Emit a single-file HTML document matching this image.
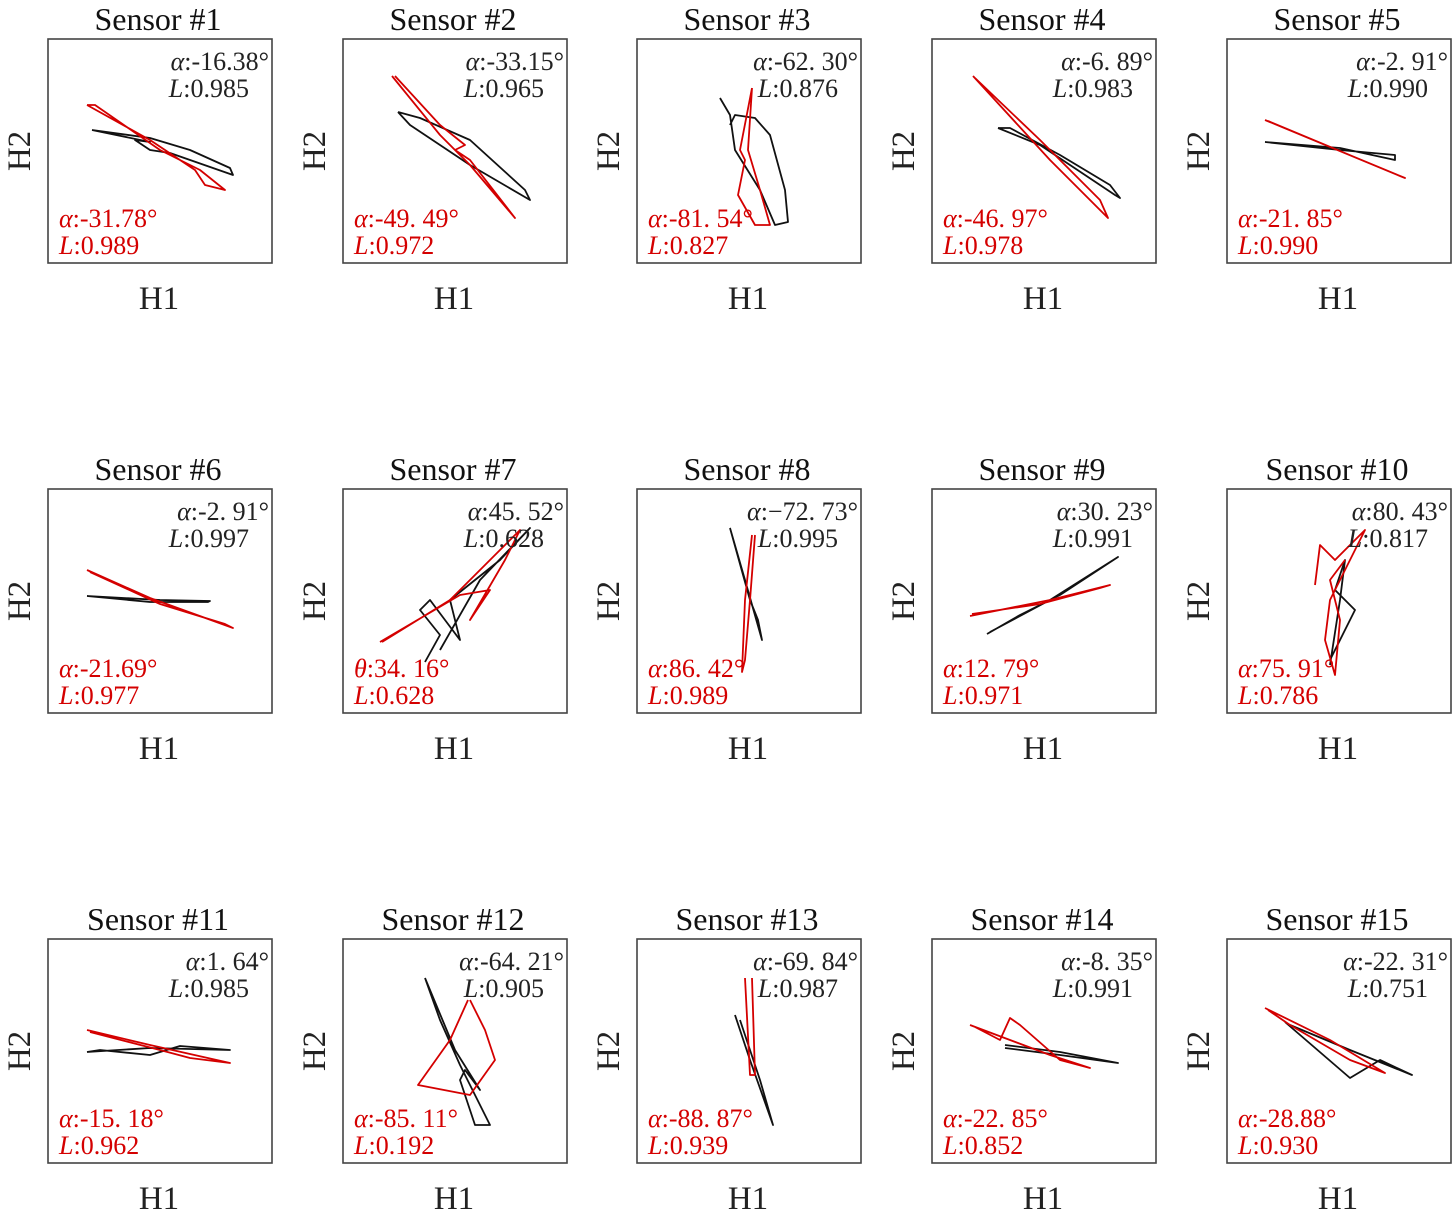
<!DOCTYPE html>
<html><head><meta charset="utf-8"><style>
html,body{margin:0;padding:0;background:#fff;}
svg{display:block;}
text{font-family:"Liberation Serif",serif;}
</style></head><body>
<svg id="fig" width="1456" height="1216" viewBox="0 0 1456 1216" xmlns="http://www.w3.org/2000/svg"></svg>
<script>
const titles = ["Sensor #1","Sensor #2","Sensor #3","Sensor #4","Sensor #5","Sensor #6","Sensor #7","Sensor #8","Sensor #9","Sensor #10","Sensor #11","Sensor #12","Sensor #13","Sensor #14","Sensor #15"];
const blackAlpha = ["-16.38","-33.15","-62. 30","-6. 89","-2. 91","-2. 91","45. 52","\u221272. 73","30. 23","80. 43","1. 64","-64. 21","-69. 84","-8. 35","-22. 31"];
const blackL = ["0.985","0.965","0.876","0.983","0.990","0.997","0.628","0.995","0.991","0.817","0.985","0.905","0.987","0.991","0.751"];
const redSym = ["α","α","α","α","α","α","θ","α","α","α","α","α","α","α","α"];
const redAlpha = ["-31.78","-49. 49","-81. 54","-46. 97","-21. 85","-21.69","34. 16","86. 42","12. 79","75. 91","-15. 18","-85. 11","-88. 87","-22. 85","-28.88"];
const redL = ["0.989","0.972","0.827","0.978","0.990","0.977","0.628","0.989","0.971","0.786","0.962","0.192","0.939","0.852","0.930"];
const blackX = [
 [-68,-10,-25,-10,10,73,70,30,-10,-68],
 [-57,-45,15,75,70,15,-35,-57],
 [-29,-19,-14,11,26,39,36,21,6,-14,-19],
 [-46,-4,26,71,76,66,16,-34,-46],
 [-74,1,56,56,1,-74],
 [-73,0,50,48,-10,-73],
 [-30,-15,-35,-25,-10,5,-5,45,75,25,-15],
 [-19,-4,13,9,1,-19],
 [-57,-24,16,74,6,-54],
 [-9,1,6,-4,16,-9],
 [-73,-10,70,20,-10,-60,-73],
 [-30,-15,5,35,20,5,10,25,0,-30],
 [-14,1,24,11,-9],
 [-39,16,74,16,-39],
 [-54,11,41,73,11,-49]
];
const blackY = [
 [21,9,11,1,-2,-24,-17,1,13,21],
 [39,26,-14,-49,-39,11,33,39],
 [53,36,1,-39,-74,-71,-39,16,33,36,26],
 [23,6,-14,-44,-47,-34,-4,23,23],
 [9,3,-9,-4,1,9],
 [5,1,0,-1,-1,5],
 [-61,-34,-9,1,-19,-39,1,41,73,21,-49],
 [73,21,-39,-19,1,73],
 [-33,-14,6,44,1,-31],
 [-64,1,41,11,-9,-59],
 [-1,3,1,5,-4,1,-1],
 [73,31,-14,-74,-74,-29,-19,-39,1,73],
 [36,-9,-74,-29,31],
 [3,-4,-12,-1,6],
 [29,-27,-9,-24,1,26]
];
const redX = [
 [-73,-10,35,45,65,50,40,0,-65,-73],
 [-63,-15,5,15,60,15,0,10,-15,-60],
 [3,-9,-4,-11,6,21,11,-1,3],
 [-71,6,64,56,-4,-69],
 [-74,66,61,-71],
 [-73,-10,73,65,0,-70],
 [-73,-5,65,50,15,35,5,-75],
 [3,-4,-7,-4,1,6],
 [-74,6,66,56,-4,-72],
 [-24,-19,-4,26,-9,-14,-4,1,-9,6],
 [-73,-10,70,30,0,-70],
 [13,-5,-37,15,40,30,15],
 [-4,1,6,3],
 [-74,6,46,16,-24,-34,-44,-69],
 [-74,-9,46,11,-49,-71]
];
const redY = [
 [46,11,-19,-34,-39,-27,-19,1,46,46],
 [75,16,-4,-14,-67,-9,1,6,26,75],
 [63,1,-9,-44,-74,-74,-39,1,63],
 [75,-9,-67,-49,11,73],
 [31,-27,-25,30],
 [31,3,-27,-23,-3,29],
 [-41,1,71,41,-19,11,6,-41],
 [66,1,-71,-59,1,66],
 [-15,1,16,13,-3,-13],
 [16,56,41,71,1,-39,-74,-19,21,41],
 [21,6,-12,-7,1,19],
 [51,11,-34,-44,-9,21,51],
 [73,-24,-24,73],
 [26,-4,-17,-9,26,33,11,24],
 [43,11,-22,-9,26,41]
];
const NS="http://www.w3.org/2000/svg";
const svg=document.getElementById('fig');
const colLeft=[48,343,637,932,1227], rowTop=[39,489,939], BOX=224;
function mk(tag,attrs,parent){const e=document.createElementNS(NS,tag);for(const k in attrs)e.setAttribute(k,attrs[k]);parent.appendChild(e);return e;}
for(let i=0;i<15;i++){
  const L=colLeft[i%5], T=rowTop[Math.floor(i/5)];
  const xS=v=>L+BOX/2+v*(BOX/224);
  const yS=v=>T+BOX/2-v*(BOX/224);
  const g=mk('g',{},svg);
  
  
  const t=mk('text',{x:L+BOX/2-2,y:T-9,'text-anchor':'middle','font-size':32,fill:'#111'},g);
  t.textContent=titles[i];
  
  
  const r=mk('rect',{x:L,y:T,width:BOX,height:BOX,fill:'none',stroke:'#444','stroke-width':1.6},g);
  
  
  const hx=mk('text',{x:L+BOX/2-1,y:T+270,'text-anchor':'middle','font-size':33,fill:'#222'},g);
  hx.textContent='H1';
  
  
  const hy=mk('text',{x:0,y:0,'text-anchor':'middle','font-size':33,fill:'#222',transform:`translate(${L-18},${T+BOX/2}) rotate(-90)`},g);
  hy.textContent='H2';
  
  
  const pb=blackX[i].map((v,k)=>xS(v).toFixed(1)+','+yS(blackY[i][k]).toFixed(1)).join(' ');
  const lb=mk('polyline',{points:pb,fill:'none',stroke:'#111','stroke-width':1.8,'stroke-linejoin':'round'},g);
  
  
  const pr=redX[i].map((v,k)=>xS(v).toFixed(1)+','+yS(redY[i][k]).toFixed(1)).join(' ');
  const lr=mk('polyline',{points:pr,fill:'none',stroke:'#d40000','stroke-width':1.8,'stroke-linejoin':'round'},g);
  
  
  const a1=mk('text',{x:L+BOX-3,y:T+31,'text-anchor':'end','font-size':26,fill:'#222'},g);
  a1.innerHTML='<tspan font-style="italic">α</tspan>:'+blackAlpha[i]+'°';
  
  
  const a2=mk('text',{x:L+BOX-23,y:T+58,'text-anchor':'end','font-size':26,fill:'#222'},g);
  a2.innerHTML='<tspan font-style="italic">L</tspan>:'+blackL[i];
  
  
  const b1=mk('text',{x:L+11,y:T+188,'font-size':26,fill:'#d40000'},g);
  b1.innerHTML='<tspan font-style="italic">'+redSym[i]+'</tspan>:'+redAlpha[i]+'°';
  
  
  const b2=mk('text',{x:L+11,y:T+215,'font-size':26,fill:'#d40000'},g);
  b2.innerHTML='<tspan font-style="italic">L</tspan>:'+redL[i];
  
  
}
</script>
</body></html>
